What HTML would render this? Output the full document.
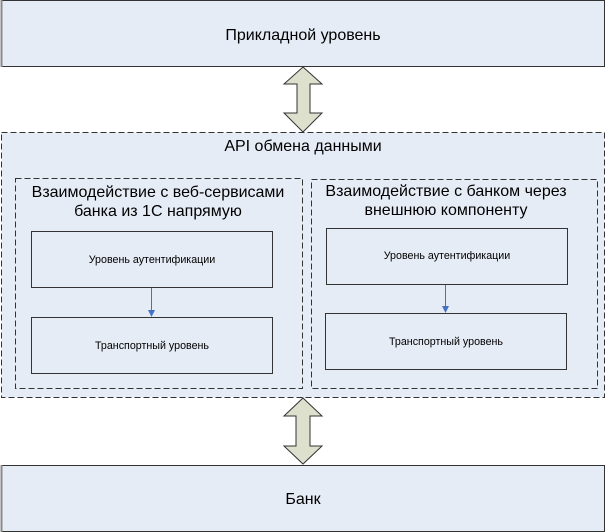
<!DOCTYPE html>
<html><head><meta charset="utf-8"><style>
html,body{margin:0;padding:0;background:#fff;}
svg{display:block;}
text{font-family:"Liberation Sans",sans-serif;fill:#000;}
</style></head><body>
<svg width="606" height="532" viewBox="0 0 606 532" xmlns="http://www.w3.org/2000/svg">
<rect x="1.5" y="0.5" width="603" height="66" fill="#e6ecf6" stroke="#333" stroke-width="1"/>
<line x1="1.5" y1="0" x2="1.5" y2="67" stroke="#888" stroke-width="2"/>
<text x="303" y="40" font-size="16" text-anchor="middle">Прикладной уровень</text>

<rect x="1.5" y="132.5" width="603" height="265" fill="#e6ecf6" stroke="#333" stroke-width="1" stroke-dasharray="6,3"/>
<text x="303" y="151" font-size="16" text-anchor="middle">API обмена данными</text>

<rect x="15.5" y="178.5" width="287" height="210" fill="#e6ecf6" stroke="#333" stroke-dasharray="6,3"/>
<text x="158" y="197" font-size="16" text-anchor="middle">Взаимодействие с веб-сервисами</text>
<text x="158" y="216" font-size="16" text-anchor="middle">банка из 1С напрямую</text>
<rect x="31.5" y="231.5" width="241" height="56" fill="#e6ecf6" stroke="#333"/>
<text x="152" y="263" font-size="10.7" text-anchor="middle">Уровень аутентификации</text>
<line x1="151.5" y1="288" x2="151.5" y2="311" stroke="#4472c4"/>
<polygon points="148,310 155,310 151.5,317" fill="#4472c4"/>
<rect x="31.5" y="317.5" width="241" height="56" fill="#e6ecf6" stroke="#333"/>
<text x="152" y="349" font-size="10.7" text-anchor="middle">Транспортный уровень</text>

<rect x="311.5" y="179.5" width="286" height="209" fill="#e6ecf6" stroke="#333" stroke-dasharray="6,3"/>
<text x="446" y="196" font-size="16" text-anchor="middle">Взаимодействие с банком через</text>
<text x="446" y="215" font-size="16" text-anchor="middle">внешнюю компоненту</text>
<rect x="326.5" y="228.5" width="241" height="56" fill="#e6ecf6" stroke="#333"/>
<text x="447" y="259" font-size="10.7" text-anchor="middle">Уровень аутентификации</text>
<line x1="445.5" y1="285" x2="445.5" y2="307" stroke="#4472c4"/>
<polygon points="442,306 449,306 445.5,313" fill="#4472c4"/>
<rect x="325.5" y="313.5" width="241" height="56" fill="#e6ecf6" stroke="#333"/>
<text x="446" y="345" font-size="10.7" text-anchor="middle">Транспортный уровень</text>

<polygon points="303,67 322,84 310,84 310,113 322,113 303,132 284,113 297,113 297,84 284,84" fill="#dde0cc" stroke="#333"/>
<polygon points="303,398 322,416 310,416 310,446 322,446 303,464 284,446 296,446 296,416 284,416" fill="#dde0cc" stroke="#333"/>

<rect x="1.5" y="465.5" width="603" height="66" fill="#e6ecf6" stroke="#333"/>
<line x1="1.5" y1="465" x2="1.5" y2="532" stroke="#888" stroke-width="2"/>
<text x="303" y="504" font-size="16" text-anchor="middle">Банк</text>
</svg>
</body></html>
